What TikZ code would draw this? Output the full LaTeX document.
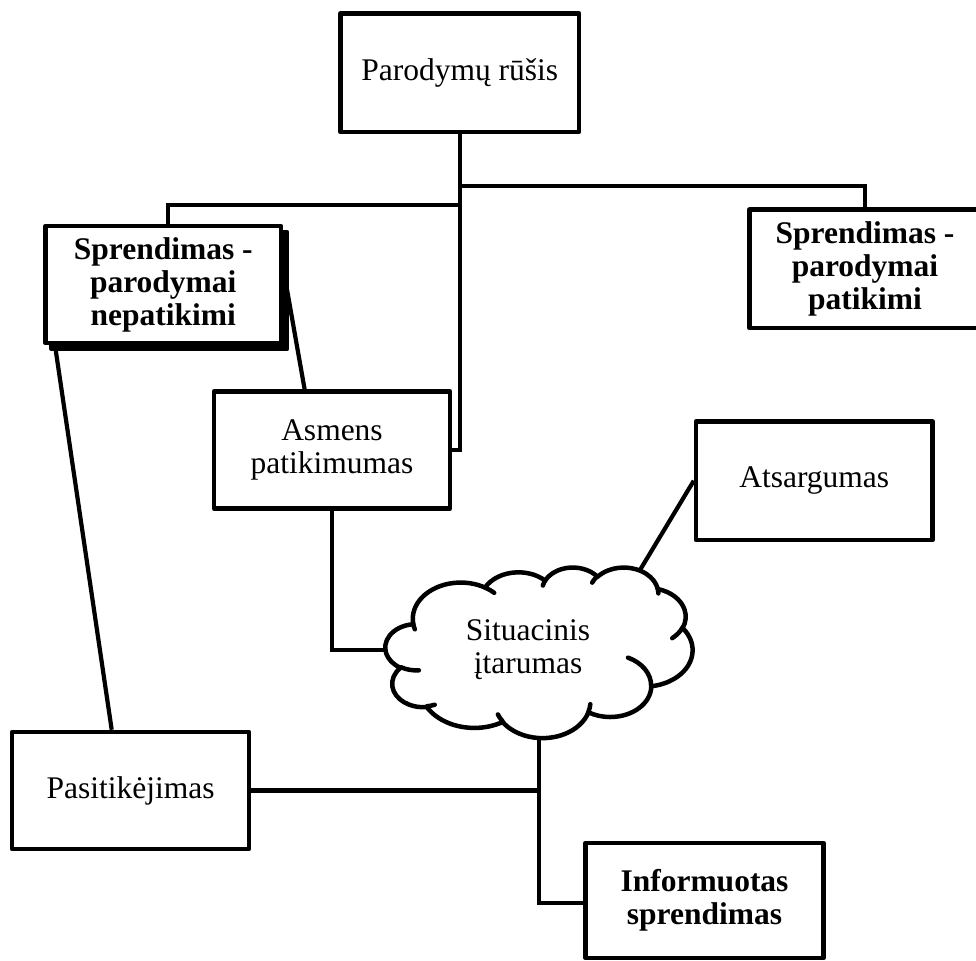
\documentclass[tikz,border=0pt]{standalone}
\usepackage{fontspec}
\setmainfont{Liberation Serif}
\usetikzlibrary{backgrounds}

% Parametric start angle and sweep of an elliptical arc whose
% start and sweep are given as visual angles (degrees).
\newcommand\ellarc[6]{%
  \pgfmathsetmacro\ellS{atan2((#3)*sin(#5),(#4)*cos(#5))}%
  \pgfmathsetmacro\ellE{atan2((#3)*sin((#5)+(#6)),(#4)*cos((#5)+(#6)))}%
  \pgfmathsetmacro\ellD{mod(\ellE-\ellS+720,360)}%
  \global\let#1\ellS
  \global\let#2\ellD}

% cloud outline (11 bumps)
\ellarc\oSA\oDA{6.753}{9.190}{-190.48748}{123.78053}
\ellarc\oSB\oDB{5.333}{7.267}{-144.10238}{89.94523}
\ellarc\oSC\oDC{4.365}{5.945}{-145.80792}{99.72302}
\ellarc\oSD\oDD{4.857}{6.595}{-130.98607}{117.24173}
\ellarc\oSE\oDE{5.333}{7.273}{-78.70888}{109.02692}
\ellarc\oSF\oDF{6.775}{9.220}{-46.26725}{130.269}
\ellarc\oSG\oDG{5.785}{7.867}{0.62502}{114.03333}
\ellarc\oSH\oDH{6.752}{9.215}{22.4516}{115.17255}
\ellarc\oSI\oDI{7.720}{10.543}{66.24263}{75.71102}
\ellarc\oSJ\oDJ{4.360}{5.918}{-274.94208}{146.73557}
\ellarc\oSK\oDK{4.345}{5.945}{-246.8285}{152.51885}
% small inner strokes of the cloud
\ellarc\iSA\iDA{4.345}{5.945}{86.742}{26.4295}
\ellarc\iSB\iDB{4.360}{5.918}{73.61047}{11.44747}
\ellarc\iSC\iDC{6.752}{9.215}{137.62415}{14.0811}
\ellarc\iSD\iDD{6.752}{9.215}{6.45327}{15.99835}
\ellarc\iSE\iDE{5.785}{7.867}{-70.29235}{70.91737}
\ellarc\iSF\iDF{5.333}{7.273}{30.31803}{27.7515}
\ellarc\iSG\iDG{4.857}{6.595}{-13.74433}{14.8589}
\ellarc\iSH\iDH{4.857}{6.595}{-149.18145}{18.19537}
\ellarc\iSI\iDI{4.365}{5.945}{-163.49427}{17.68635}
\ellarc\iSJ\iDJ{6.753}{9.190}{-66.70695}{12.31935}
\ellarc\iSK\iDK{6.753}{9.190}{157.65435}{11.85817}

\begin{document}
\begin{tikzpicture}[x=1pt,y=-1pt,
  box/.style={draw, fill=white, line width=4.5pt, line join=round, inner sep=0pt,
    align=center, font=\fontsize{31.5}{33}\selectfont},
  boldbox/.style={box, font=\fontsize{31.5}{33}\selectfont\bfseries},
  link/.style={line width=4.2pt},
  cloudline/.style={line width=4.5pt, line join=round, line cap=round}]

\path[use as bounding box] (0,0) rectangle (976,960);

% boxes
\node[box, minimum width=238.5pt, minimum height=118.5pt] (par) at (459.75,72.75) {Parodymų rūšis};
\node[box, fill=black, minimum width=235.5pt, minimum height=117pt] (nepsh) at (169.25,290.5) {};
\node[boldbox, minimum width=235.5pt, minimum height=117pt] (nep) at (163.25,284.5) {Sprendimas -\\parodymai\\nepatikimi};
\node[boldbox, minimum width=231pt, minimum height=118.3pt] (pat) at (865,268.85) {Sprendimas -\\parodymai\\patikimi};
\node[box, minimum width=236pt, minimum height=117pt] (asm) at (332,450) {Asmens\\patikimumas};
\node[box, minimum width=236.5pt, minimum height=118.5pt] (ats) at (814.25,480.75) {Atsargumas};
\node[box, minimum width=237pt, minimum height=117pt] (pas) at (130.5,790.5) {Pasitikėjimas};
\node[boldbox, minimum width=238pt, minimum height=115pt] (inf) at (704.5,900.5) {Informuotas\\sprendimas};

% cloud
\begin{scope}[shift={(385.5,567)}, xscale=7.106, yscale=3.947]
  \draw[cloudline, fill=white] (3.900,14.370)
    arc[x radius=6.753, y radius=9.190, start angle=\oSA, delta angle=\oDA]
    arc[x radius=5.333, y radius=7.267, start angle=\oSB, delta angle=\oDB]
    arc[x radius=4.365, y radius=5.945, start angle=\oSC, delta angle=\oDC]
    arc[x radius=4.857, y radius=6.595, start angle=\oSD, delta angle=\oDD]
    arc[x radius=5.333, y radius=7.273, start angle=\oSE, delta angle=\oDE]
    arc[x radius=6.775, y radius=9.220, start angle=\oSF, delta angle=\oDF]
    arc[x radius=5.785, y radius=7.867, start angle=\oSG, delta angle=\oDG]
    arc[x radius=6.752, y radius=9.215, start angle=\oSH, delta angle=\oDH]
    arc[x radius=7.720, y radius=10.543, start angle=\oSI, delta angle=\oDI]
    arc[x radius=4.360, y radius=5.918, start angle=\oSJ, delta angle=\oDJ]
    arc[x radius=4.345, y radius=5.945, start angle=\oSK, delta angle=\oDK] -- cycle;
  \draw[cloudline]
    (4.693,26.177) arc[x radius=4.345, y radius=5.945, start angle=\iSA, delta angle=\iDA]
    (6.928,34.899) arc[x radius=4.360, y radius=5.918, start angle=\iSB, delta angle=\iDB]
    (16.478,39.090) arc[x radius=6.752, y radius=9.215, start angle=\iSC, delta angle=\iDC]
    (28.827,34.751) arc[x radius=6.752, y radius=9.215, start angle=\iSD, delta angle=\iDD]
    (34.129,22.954) arc[x radius=5.785, y radius=7.867, start angle=\iSE, delta angle=\iDE]
    (41.798,15.354) arc[x radius=5.333, y radius=7.273, start angle=\iSF, delta angle=\iDF]
    (38.324,5.426) arc[x radius=4.857, y radius=6.595, start angle=\iSG, delta angle=\iDG]
    (29.078,3.952) arc[x radius=4.857, y radius=6.595, start angle=\iSH, delta angle=\iDH]
    (22.141,4.720) arc[x radius=4.365, y radius=5.945, start angle=\iSI, delta angle=\iDI]
    (14.000,5.192) arc[x radius=6.753, y radius=9.190, start angle=\iSJ, delta angle=\iDJ]
    (4.127,15.789) arc[x radius=6.753, y radius=9.190, start angle=\iSK, delta angle=\iDK];
\end{scope}
\node[align=center, font=\fontsize{31.5}{33}\selectfont] (cld) at (528,650) {Situacinis\\įtarumas};

% attachment points on the cloud
\coordinate (cldL) at (395,650);
\coordinate (cldB) at (539,730);
\coordinate (cldTR) at (637,575);

% connectors, drawn beneath the shapes
\begin{pgfonlayer}{background}
  \fill[white] (0,0) rectangle (976,960);
  \draw[link] (par.south) |- (asm.east);
  \draw[link] (par.south |- 0,186) -| (pat.north);
  \draw[link] (par.south |- 0,205) -| ([xshift=4.75pt]nep.north);
  \draw[link] ([yshift=16.2pt]nep.east) -- ([xshift=-27.4pt]asm.north);
  \draw[link] ([xshift=-108.25pt]nep.south) -- ([xshift=-18.8pt]pas.north);
  \draw[link] (asm.south) |- (cldL);
  \draw[link] (cldTR) -- (ats.west);
  \draw[link] (pas.east) -- (pas.east -| cldB);
  \draw[link] (cldB) |- ([yshift=-2.5pt]inf.west);
\end{pgfonlayer}
\end{tikzpicture}
\end{document}
